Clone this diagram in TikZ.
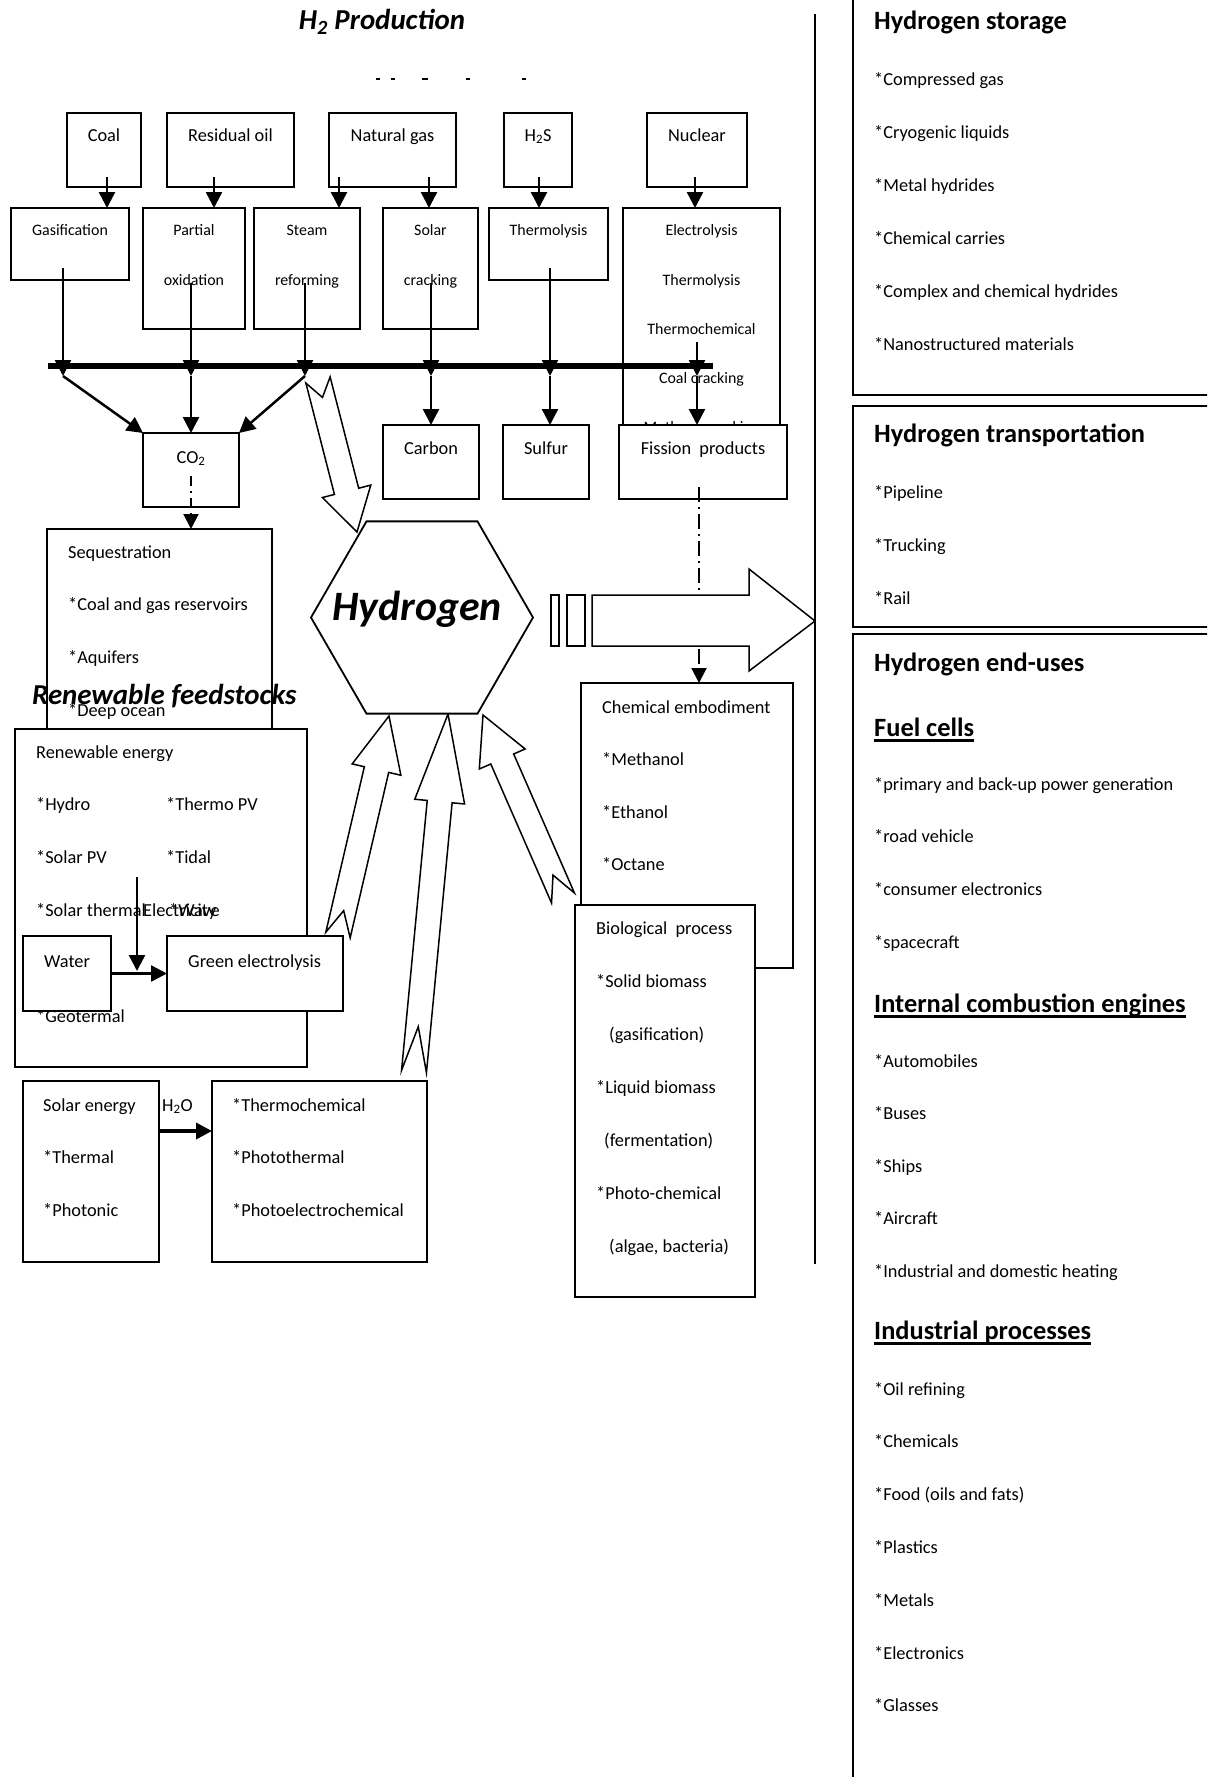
\documentclass[tikz,border=0pt]{standalone}
\usepackage{fontspec}
\setmainfont{Carlito}
\usetikzlibrary{arrows.meta,shapes.geometric,calc}
\newcommand\fbody{\fontsize{18.4}{22}\selectfont}
\newcommand\fsmall{\fontsize{16}{19}\selectfont}
\newcommand\fhead{\fontsize{26.5}{30}\selectfont\bfseries}
\newcommand\ftitle{\fontsize{29}{33}\selectfont\bfseries\itshape}
\newcommand\fhyd{\fontsize{42}{48}\selectfont\bfseries\itshape}
\newcommand\mybox[5]{\node[box, minimum width=#4bp, minimum height=#5bp] (#1) at (#2,#3) {};}
\newcommand\hollowarrow[4]{%
  \coordinate (ha-T) at #1; \coordinate (ha-P) at #2;
  \coordinate (ha-H) at ($(ha-P)!#3bp!(ha-T)$);
  \coordinate (ha-N) at ($(ha-T)!#4bp!(ha-P)$);
  \draw[harrow] (ha-P) -- ($(ha-H)!25bp!90:(ha-P)$) -- ($(ha-H)!12.5bp!90:(ha-P)$)
     -- ($(ha-T)!12.5bp!90:(ha-P)$) -- (ha-N) -- ($(ha-T)!12.5bp!-90:(ha-P)$)
     -- ($(ha-H)!12.5bp!-90:(ha-P)$) -- ($(ha-H)!25bp!-90:(ha-P)$) -- cycle;}
\begin{document}
\begin{tikzpicture}[x=1bp,y=-1bp,
  box/.style={draw, line width=1.8bp, fill=white, inner sep=0, outer sep=0},
  rbox/.style={draw, line width=2.4bp, fill=white, inner sep=0, outer sep=0},
  conn/.style={line width=2.5bp, -{Triangle[length=16bp,width=16bp]}},
  bar/.style={line width=6bp},
  harrow/.style={draw, line width=1.5bp, fill=white, line join=miter},
  dashdot/.style={line width=2bp, dash pattern=on 10bp off 5bp on 2bp off 5bp, -{Triangle[length=15bp,width=15bp]}},
  dashdotb/.style={line width=2bp, dash pattern=on 15bp off 5bp on 2bp off 5bp, -{Triangle[length=15bp,width=15bp]}},
  txt/.style={anchor=base west, inner sep=0, font=\fbody},
  ctxt/.style={anchor=base, inner sep=0, font=\fbody},
  stxt/.style={anchor=base, inner sep=0, font=\fsmall},
  head/.style={anchor=base west, inner sep=0, font=\fhead},
  uline/.style={line width=2.2bp},
  tick/.style={line width=1.4bp}]
\clip (0,0) rectangle (1207,1777);
\fill[white] (0,0) rectangle (1207,1777);

% ---------- title ----------
\node[anchor=base, inner sep=0, font=\ftitle] (title) at (382,29.5) {H\textsubscript{2} Production};
\coordinate (m1) at (376,79); \coordinate (m2) at (380,79); \draw[tick] (m1) -- (m2);
\coordinate (m3) at (391,79); \coordinate (m4) at (395,79); \draw[tick] (m3) -- (m4);
\coordinate (m5) at (422,79); \coordinate (m6) at (428,79); \draw[line width=2bp] (m5) -- (m6);
\coordinate (m7) at (466,79); \coordinate (m8) at (470,79); \draw[tick] (m7) -- (m8);
\coordinate (m9) at (522,79); \coordinate (m10) at (526,79); \draw[tick] (m9) -- (m10);

% ---------- feedstock boxes ----------
\mybox{coal}{104}{150}{74}{74}
\mybox{resoil}{230.5}{150}{127}{74}
\mybox{natgas}{392.5}{150}{127}{74}
\mybox{htwos}{538}{150}{68}{74}
\mybox{nuclear}{697}{150}{100}{74}
\node[ctxt] (tcoal) at (104,141) {Coal};
\node[ctxt] (tres) at (230.5,141) {Residual oil};
\node[ctxt] (tnat) at (392.5,141) {Natural gas};
\node[ctxt] (th2s) at (538,141) {H\textsubscript{2}S};
\node[ctxt] (tnuc) at (697,141) {Nuclear};

% ---------- process boxes ----------
\mybox{gasif}{70}{244}{118}{72}
\mybox{partox}{194}{268.5}{102}{121}
\mybox{steam}{307}{268.5}{106}{121}
\mybox{solar}{430.5}{268.5}{95}{121}
\mybox{thermo}{548.5}{244}{119}{72}
\mybox{electro}{701.5}{334}{157}{252}
\node[stxt] (tgas) at (70,235) {Gasification};
\node[stxt] (tpar1) at (194,235) {Partial};
\node[stxt] (tpar2) at (194,285) {oxidation};
\node[stxt] (tst1) at (307,235) {Steam};
\node[stxt] (tst2) at (307,285) {reforming};
\node[stxt] (tso1) at (430.5,235) {Solar};
\node[stxt] (tso2) at (430.5,285) {cracking};
\node[stxt] (tthe) at (548.5,235) {Thermolysis};
\node[stxt] (tel1) at (701.5,235) {Electrolysis};
\node[stxt] (tel2) at (701.5,285) {Thermolysis};
\node[stxt] (tel3) at (701.5,334) {Thermochemical};
\node[stxt] (tel4) at (701.5,383) {Coal cracking};
\node[stxt] (tel5) at (701.5,432) {Methane cracking};

% ---------- product boxes ----------
\mybox{co2}{191}{470}{96}{74}
\mybox{carbon}{431}{462}{96}{74}
\mybox{sulfur}{546}{462}{86}{74}
\mybox{fission}{703}{462}{168}{74}
\node[ctxt] (tco2) at (191,463) {CO\textsubscript{2}};
\node[ctxt] (tcar) at (431,454) {Carbon};
\node[ctxt] (tsul) at (546,454) {Sulfur};
\node[ctxt] (tfis) at (703,454) {Fission\ \ products};

% ---------- arrows feedstock -> process ----------
\coordinate (a1) at (107,177); \draw[conn] (a1) -- (a1 |- gasif.north);
\coordinate (a2) at (214,177); \draw[conn] (a2) -- (a2 |- partox.north);
\coordinate (a3) at (339,177); \draw[conn] (a3) -- (a3 |- steam.north);
\coordinate (a4) at (429,177); \draw[conn] (a4) -- (a4 |- solar.north);
\coordinate (a5) at (539,177); \draw[conn] (a5) -- (a5 |- thermo.north);
\coordinate (a6) at (695,177); \draw[conn] (a6) -- (a6 |- electro.north);

% ---------- bar ----------
\coordinate (barL) at (48,366); \coordinate (barR) at (713,366);
\draw[bar] (barL) -- (barR);
\coordinate (b1) at (63,268);  \coordinate (j1) at (63,376);
\coordinate (b2) at (191,283); \coordinate (j2) at (191,376);
\coordinate (b3) at (305,283); \coordinate (j3) at (305,376);
\coordinate (b4) at (431,283); \coordinate (j4) at (431,376);
\coordinate (b5) at (550,268); \coordinate (j5) at (550,376);
\coordinate (b6) at (697,342); \coordinate (j6) at (697,376);
\draw[conn] (b1) -- (j1); \draw[conn] (b2) -- (j2); \draw[conn] (b3) -- (j3);
\draw[conn] (b4) -- (j4); \draw[conn] (b5) -- (j5); \draw[conn] (b6) -- (j6);
\draw[conn] (j1) -- (co2.north west);
\draw[conn] (j2) -- (co2.north);
\draw[conn] (j3) -- (co2.north east);
\draw[conn] (j4) -- (j4 |- carbon.north);
\draw[conn] (j5) -- (j5 |- sulfur.north);
\draw[conn] (j6) -- (j6 |- fission.north);

% steam -> hydrogen hollow arrow
\hollowarrow{(318,380)}{(357,532)}{42}{18}

% ---------- sequestration ----------
\mybox{seq}{159.5}{634.5}{225}{211}
\coordinate (d1) at (191,476); \draw[dashdot] (d1) -- (d1 |- seq.north);
\node[txt] (tseq1) at (68,558) {Sequestration};
\node[txt] (tseq2) at (68,610) {*Coal and gas reservoirs};
\node[txt] (tseq3) at (68,663) {*Aquifers};
\node[txt] (tseq4) at (68,716) {*Deep ocean};
\node[anchor=base west, inner sep=0, font=\ftitle] (rfeed) at (32,704) {Renewable feedstocks};

% ---------- renewable energy ----------
\mybox{renew}{161}{898}{292}{338}
\node[txt] (tre0) at (36,758) {Renewable energy};
\node[txt] (tre1) at (36,810) {*Hydro};
\node[txt] (tre2) at (166,810) {*Thermo PV};
\node[txt] (tre3) at (36,863) {*Solar PV};
\node[txt] (tre4) at (166,863) {*Tidal};
\node[txt] (tre5) at (36,916) {*Solar thermal};
\node[txt] (tre6) at (169,916) {*Wave};
\node[txt] (telec) at (143,916) {Electricity};
\node[txt] (tre7) at (36,1022) {*Geotermal};
\mybox{water}{67}{973.5}{88}{75}
\mybox{green}{255}{973.5}{176}{75}
\node[txt] (twat) at (44,967) {Water};
\node[txt] (tgre) at (188,967) {Green electrolysis};
\coordinate (e1) at (137,877); \coordinate (e2) at (137,971);
\draw[conn] (e1) -- (e2);
\draw[conn] (water.east) -- (green.west);

% ---------- solar energy ----------
\mybox{solarE}{91}{1171.5}{136}{181}
\mybox{tchem}{319.5}{1171.5}{215}{181}
\node[txt] (tse1) at (43,1111) {Solar energy};
\node[txt] (tse2) at (43,1163) {*Thermal};
\node[txt] (tse3) at (43,1216) {*Photonic};
\node[txt] (th2o) at (162,1111) {H\textsubscript{2}O};
\node[txt] (ttc1) at (232,1111) {*Thermochemical};
\node[txt] (ttc2) at (232,1163) {*Photothermal};
\node[txt] (ttc3) at (232,1216) {*Photoelectrochemical};
\coordinate (s1) at (159,1131);
\draw[conn, line width=3.5bp] (s1) -- (s1 -| tchem.west);

% ---------- chemical embodiment / biological ----------
\mybox{chem}{687}{825.5}{212}{285}
\node[txt] (tch0) at (602,713) {Chemical embodiment};
\node[txt] (tch1) at (602,765) {*Methanol};
\node[txt] (tch2) at (602,818) {*Ethanol};
\node[txt] (tch3) at (602,870) {*Octane};
\mybox{bio}{665}{1101}{180}{392}
\node[txt] (tbi0) at (596,934) {Biological\ \ process};
\node[txt] (tbi1) at (596,987) {*Solid biomass};
\node[txt] (tbi2) at (609,1040) {(gasification)};
\node[txt] (tbi3) at (596,1093) {*Liquid biomass};
\node[txt] (tbi4) at (604,1146) {(fermentation)};
\node[txt] (tbi5) at (596,1199) {*Photo-chemical};
\node[txt] (tbi6) at (609,1252) {(algae, bacteria)};

% fission -> chemical embodiment
\coordinate (d2) at (699,487); \draw[dashdotb] (d2) -- (d2 |- chem.north);

% big striped arrow
\draw[harrow] (592,595) -- (749,595) -- (749,569) -- (815,621) -- (749,671) -- (749,646) -- (592,646) -- cycle;
\draw[harrow] (551,595) rectangle (559,646);
\draw[harrow] (567,595) rectangle (585,646);

% hollow arrows into hydrogen
\hollowarrow{(338,935)}{(389,716)}{55}{25}
\hollowarrow{(414,1071.5)}{(448,714)}{88}{45}
\hollowarrow{(563,898)}{(483,715)}{48}{25}

% hydrogen hexagon
\node[draw, line width=1.8bp, fill=white, regular polygon, regular polygon sides=6,
      minimum size=222bp, inner sep=0] (hex) at (422,617.5) {};
\node[anchor=base, inner sep=0, font=\fhyd] (thyd) at (417,620) {Hydrogen};

% ---------- separator ----------
\coordinate (v1) at (815,14); \coordinate (v2) at (815,1264);
\draw[line width=2bp] (v1) -- (v2);

% ---------- right panel ----------
\node[rbox, minimum width=362bp, minimum height=400bp] (storage) at (1034,195) {};
\node[rbox, minimum width=362bp, minimum height=221bp] (transp) at (1034,516.5) {};
\node[rbox, minimum width=362bp, minimum height=1156bp] (enduse) at (1034,1212) {};

\node[head] (hst) at (874,29.5) {Hydrogen storage};
\foreach \t [count=\i] in {*Compressed gas,*Cryogenic liquids,*Metal hydrides,*Chemical carries,*Complex and chemical hydrides,*Nanostructured materials}
  \node[txt] (st\i) at (874,{85+(\i-1)*53}) {\t};

\node[head] (htr) at (874,442) {Hydrogen transportation};
\foreach \t [count=\i] in {*Pipeline,*Trucking,*Rail}
  \node[txt] (tr\i) at (874,{498+(\i-1)*53}) {\t};

\node[head] (heu) at (874,671) {Hydrogen end-uses};
\node[head] (hfc) at (874,736) {Fuel cells};
\draw[uline] ([yshift=-4.5bp]hfc.base west) -- ([yshift=-4.5bp]hfc.base east);
\foreach \t [count=\i] in {*primary and back-up power generation,*road vehicle,*consumer electronics,*spacecraft}
  \node[txt] (fc\i) at (874,{790+(\i-1)*52.7}) {\t};

\node[head] (hic) at (874,1012) {Internal combustion engines};
\draw[uline] ([yshift=-4.5bp]hic.base west) -- ([yshift=-4.5bp]hic.base east);
\foreach \t [count=\i] in {*Automobiles,*Buses,*Ships,*Aircraft,*Industrial and domestic heating}
  \node[txt] (ic\i) at (874,{1067+(\i-1)*52.5}) {\t};

\node[head] (hip) at (874,1339) {Industrial processes};
\draw[uline] ([yshift=-4.5bp]hip.base west) -- ([yshift=-4.5bp]hip.base east);
\foreach \t [count=\i] in {*Oil refining,*Chemicals,*Food (oils and fats),*Plastics,*Metals,*Electronics,*Glasses}
  \node[txt] (ip\i) at (874,{1395+(\i-1)*52.8}) {\t};
\end{tikzpicture}
\end{document}
